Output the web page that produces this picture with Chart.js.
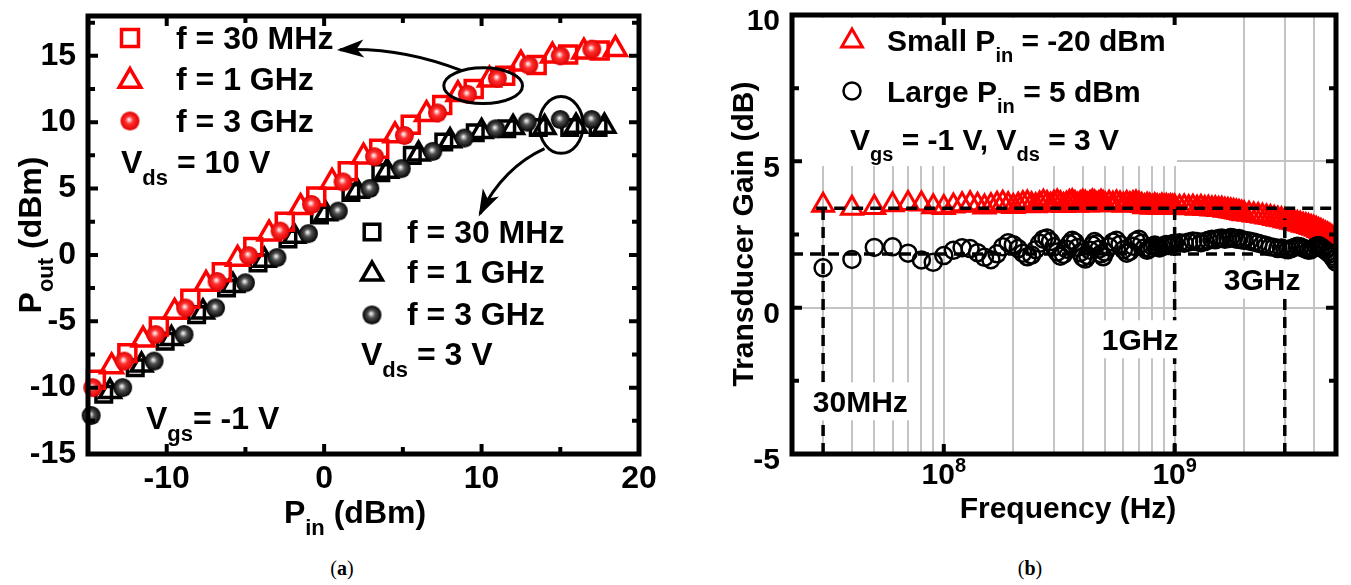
<!DOCTYPE html>
<html>
<head>
<meta charset="utf-8">
<script src="https://cdn.jsdelivr.net/npm/chart.js@4.4.1/dist/chart.umd.min.js"></script>
<style>
  html, body { margin: 0; padding: 0; background: #fff; }
  #wrap { position: relative; width: 1351px; height: 585px; overflow: hidden; }
  #cA { position: absolute; left: 0; top: 0; }
  #cB { position: absolute; left: 690px; top: 0; }
  .cap { position: absolute; top: 557px; width: 60px; text-align: center;
         font: 20px 'Liberation Serif', serif; color: #000; }
</style>
</head>
<body>
<div id="wrap">
  <canvas id="cA" width="680" height="545"></canvas>
  <canvas id="cB" width="661" height="545"></canvas>
  <div class="cap" style="left:312px">(<b>a</b>)</div>
  <div class="cap" style="left:1000px">(<b>b</b>)</div>
</div>
<script>
const FONT = "'Liberation Sans', Arial, Helvetica, sans-serif";
const RED = '#ff0000';
const BLACK = '#000000';
const GRID = '#c4c4c4';

Chart.defaults.font.family = FONT;
Chart.defaults.color = BLACK;

// ===================== (a) Pout vs Pin =====================
// Vds = 10 V (red)
const pinRed30  = [-14.5,-12.5,-10.5,-8.5,-6.5,-4.5,-2.5,-0.5,1.5,3.5,5.5,7.5,9.5,11.5,13.5,15.5,17.5];
const poutRed30 = [-9.4,-7.4,-5.4,-3.3,-1.3,0.6,2.5,4.4,6.3,8.0,9.8,11.3,12.5,13.5,14.3,15.1,15.4];
const pinRed1G  = [-13.5,-11.5,-9.5,-7.5,-5.5,-3.5,-1.5,0.5,2.5,4.5,6.5,8.5,10.5,12.5,14.5,16.5,18.5];
const poutRed1G = [-8.4,-6.4,-4.3,-2.2,-0.3,1.6,3.6,5.5,7.4,9.0,10.6,12.1,13.2,14.4,15.0,15.3,15.5];
const pinRed3G  = [-14.7,-12.7,-10.7,-8.8,-6.8,-4.8,-2.8,-0.8,1.2,3.2,5.1,7.2,9.1,11.0,13.0,15.0,17.0];
const poutRed3G = [-10.0,-8.0,-6.0,-4.0,-2.0,-0.05,1.8,3.8,5.5,7.4,9.0,10.7,12.1,13.3,14.3,15.0,15.5];
// Vds = 3 V (black)
const pinBlk30  = [-14.0,-12.0,-10.1,-8.1,-6.2,-4.2,-2.3,-0.3,1.7,3.6,5.6,7.6,9.6,11.6,13.6,15.6,17.4];
const poutBlk30 = [-10.5,-8.5,-6.5,-4.5,-2.5,-0.6,1.2,3.0,4.7,6.2,7.5,8.5,9.2,9.5,9.6,9.6,9.6];
const pinBlk1G  = [-13.6,-11.6,-9.7,-7.7,-5.8,-3.8,-1.9,0.1,2.1,4.0,6.0,8.0,10.0,12.0,14.0,16.0,17.8];
const poutBlk1G = [-10.3,-8.3,-6.3,-4.3,-2.3,-0.4,1.4,3.1,4.8,6.3,7.6,8.6,9.3,9.6,9.6,9.7,9.7];
const pinBlk3G  = [-14.8,-12.8,-10.8,-8.9,-6.9,-5.0,-3.0,-1.0,0.9,2.9,4.9,6.9,8.9,10.9,12.9,15.0,17.0];
const poutBlk3G = [-12.1,-10.0,-8.0,-6.0,-4.0,-2.1,-0.2,1.6,3.3,5.0,6.5,7.8,8.8,9.5,10.0,10.2,10.2];

const xTicksA = [-10, 0, 10, 20];
const xMinorA = [-5, 5, 15];
const yTicksA = [-15, -10, -5, 0, 5, 10, 15];
const yMinorA = [-12.5, -7.5, -2.5, 2.5, 7.5, 12.5, 17.5];

// ===================== (b) Transducer gain vs frequency =====================
const freqMHz = [
  30,40,50,60,70,80,90,100,110,120,130,140,150,160,170,180,190,200,
  210,220,230,240,250,260,270,280,290,300,310,320,330,340,350,360,370,380,390,400,
  410,420,430,440,450,460,470,480,490,500,
  520,540,560,580,600,620,640,660,680,700,720,740,760,780,800,820,840,860,880,900,
  920,940,960,980,1000,
  1050,1100,1150,1200,1250,1300,1350,1400,1450,1500,1550,1600,1650,1700,1750,1800,1850,1900,1950,2000,
  2100,2200,2300,2400,2500,2600,2700,2800,2900,3000,3100,3200,3300,3400,3500,3600,3700,3800,3900,4000,
  4100,4200,4300,4400,4500,4600,4700,4800,4900,5000];
const gainSmall = [
  3.50,3.40,3.42,3.52,3.56,3.54,3.45,3.42,3.47,3.52,3.55,3.50,3.44,3.48,3.53,3.57,3.52,3.46,
  3.50,3.55,3.58,3.52,3.48,3.54,3.60,3.56,3.50,3.57,3.61,3.55,3.49,3.53,3.59,3.62,3.56,3.50,3.55,3.60,
  3.57,3.51,3.56,3.61,3.58,3.52,3.55,3.60,3.56,3.52,
  3.57,3.53,3.58,3.54,3.50,3.56,3.52,3.55,3.58,3.53,3.49,3.45,3.50,3.47,3.43,3.48,3.45,3.42,3.47,3.44,
  3.46,3.42,3.45,3.43,3.44,
  3.42,3.44,3.41,3.43,3.40,3.42,3.39,3.40,3.37,3.38,3.35,3.36,3.33,3.32,3.30,3.29,3.27,3.25,3.23,3.21,
  3.19,3.17,3.15,3.12,3.10,3.08,3.05,3.02,3.00,2.97,2.95,2.92,2.90,2.88,2.85,2.82,2.80,2.77,2.74,2.71,
  2.68,2.64,2.60,2.56,2.52,2.48,2.44,2.39,2.34,2.28];
const gainLarge = [
  1.36,1.65,2.06,2.08,1.86,1.63,1.55,1.78,1.96,2.05,2.02,1.88,1.72,1.64,1.84,2.08,2.22,2.15,
  2.02,1.86,1.74,1.80,1.98,2.20,2.34,2.38,2.26,2.08,1.90,1.76,1.82,2.00,2.18,2.30,2.24,2.06,1.88,1.72,
  1.66,1.78,1.96,2.14,2.26,2.18,2.00,1.84,1.74,1.90,
  2.08,2.24,2.30,2.16,1.98,1.86,1.92,2.10,2.28,2.34,2.20,2.04,1.96,2.02,2.10,2.14,2.08,2.04,2.08,2.12,
  2.16,2.12,2.14,2.18,2.20,
  2.22,2.20,2.24,2.28,2.26,2.22,2.26,2.30,2.34,2.32,2.36,2.38,2.34,2.36,2.40,2.38,2.34,2.36,2.32,2.30,
  2.28,2.24,2.20,2.16,2.12,2.08,2.06,2.02,2.04,2.00,1.98,2.02,2.06,2.10,2.08,2.04,2.00,1.96,1.98,2.04,
  2.10,2.12,2.08,2.02,1.96,1.90,1.84,1.76,1.66,1.56];

const freqGrid = [30,40,50,60,70,80,90,100,200,300,400,500,600,700,800,900,1000,2000,3000,4000];
const freqMajor = [100, 1000];
const freqMajorLabel = [['10', '8'], ['10', '9']];
const yTicksB = [-5, 0, 5, 10];
const yMinorB = [-2.5, 2.5, 7.5];
const refLevels = [3.4, 1.83];          // horizontal dashed guides (dB)
const refFreqs = [30, 1000, 3000];      // vertical dashed guides (MHz)
const refTops = [3.4, 3.4, 3.05];

// ===================== HELPERS =====================
function makeSphere(r, hi, mid, dark) {
  const s = Math.ceil(r * 2) + 2;
  const c = document.createElement('canvas');
  c.width = s; c.height = s;
  const g = c.getContext('2d');
  const grad = g.createRadialGradient(s / 2 - r * 0.1, s / 2 - r * 0.15, r * 0.05, s / 2, s / 2, r);
  grad.addColorStop(0, hi);
  grad.addColorStop(0.38, mid);
  grad.addColorStop(1, dark);
  g.fillStyle = grad;
  g.beginPath();
  g.arc(s / 2, s / 2, r, 0, Math.PI * 2);
  g.fill();
  return c;
}
const redSphere = makeSphere(9.5, '#fff0f0', '#ff3030', '#e00000');
const blkSphere = makeSphere(9.5, '#f0f0f0', '#505050', '#000000');

const pts = (xs, ys) => xs.map((x, i) => ({ x, y: ys[i] }));

// parts: [text, kind] kind 0 normal, 1 subscript, 2 superscript; y = cap centre
function richText(ctx, x, y, parts, size, align) {
  ctx.save();
  ctx.fillStyle = BLACK;
  ctx.textBaseline = 'alphabetic';
  ctx.textAlign = 'left';
  const fontOf = k => `bold ${k ? Math.round(size * 0.68) : size}px ${FONT}`;
  let w = 0;
  parts.forEach(p => { ctx.font = fontOf(p[1]); w += ctx.measureText(p[0]).width; });
  let cx = align === 'center' ? x - w / 2 : align === 'right' ? x - w : x;
  const base = y + size * 0.358;
  parts.forEach(p => {
    ctx.font = fontOf(p[1]);
    const dy = p[1] === 1 ? size * 0.36 : p[1] === 2 ? -size * 0.4 : 0;
    ctx.fillText(p[0], cx, base + dy);
    cx += ctx.measureText(p[0]).width;
  });
  ctx.restore();
  return w;
}

function vertText(ctx, x, y, parts, size) {
  ctx.save();
  ctx.translate(x, y);
  ctx.rotate(-Math.PI / 2);
  richText(ctx, 0, 0, parts, size, 'center');
  ctx.restore();
}

function frameAndTicks(ctx, a, xs, ys, xMaj, xMin, yMaj, yMin) {
  ctx.save();
  ctx.strokeStyle = BLACK;
  ctx.lineWidth = 5;
  ctx.strokeRect(a.left, a.top, a.right - a.left, a.bottom - a.top);
  ctx.lineWidth = 4;
  ctx.beginPath();
  [[xMaj, 10], [xMin, 7]].forEach(([vals, len]) => vals.forEach(v => {
    const px = xs.getPixelForValue(v);
    ctx.moveTo(px, a.bottom); ctx.lineTo(px, a.bottom - len);
    ctx.moveTo(px, a.top); ctx.lineTo(px, a.top + len);
  }));
  [[yMaj, 10], [yMin, 7]].forEach(([vals, len]) => vals.forEach(v => {
    const py = ys.getPixelForValue(v);
    ctx.moveTo(a.left, py); ctx.lineTo(a.left + len, py);
    ctx.moveTo(a.right, py); ctx.lineTo(a.right - len, py);
  }));
  ctx.stroke();
  ctx.restore();
}

function marker(ctx, style, x, y, color, radius, bw) {
  ctx.save();
  if (style instanceof HTMLCanvasElement) {
    ctx.drawImage(style, x - style.width / 2, y - style.height / 2);
  } else {
    ctx.fillStyle = 'rgba(0,0,0,0)';
    ctx.strokeStyle = color;
    ctx.lineWidth = bw;
    Chart.helpers.drawPoint(ctx, { pointStyle: style, radius, borderWidth: bw, rotation: 0 }, x, y);
  }
  ctx.restore();
}

function arrow(ctx, p0, c, p1) {
  ctx.beginPath();
  ctx.moveTo(p0.x, p0.y);
  ctx.quadraticCurveTo(c.x, c.y, p1.x, p1.y);
  ctx.stroke();
  const ang = Math.atan2(p1.y - c.y, p1.x - c.x);
  const L = 24, W = 9;
  ctx.beginPath();
  ctx.moveTo(p1.x + 3 * Math.cos(ang), p1.y + 3 * Math.sin(ang));
  ctx.lineTo(p1.x - L * Math.cos(ang) + W * Math.sin(ang), p1.y - L * Math.sin(ang) - W * Math.cos(ang));
  ctx.lineTo(p1.x - L * 0.7 * Math.cos(ang), p1.y - L * 0.7 * Math.sin(ang));
  ctx.lineTo(p1.x - L * Math.cos(ang) - W * Math.sin(ang), p1.y - L * Math.sin(ang) + W * Math.cos(ang));
  ctx.closePath();
  ctx.fill();
}

// ===================== PLUGINS =====================
const panelA = {
  id: 'panelA',
  afterDraw(chart) {
    const { ctx, chartArea: a, scales: { x, y } } = chart;
    const P = (u, v) => ({ x: x.getPixelForValue(u), y: y.getPixelForValue(v) });

    // ellipses + arrows
    ctx.save();
    ctx.strokeStyle = BLACK;
    ctx.fillStyle = BLACK;
    ctx.lineWidth = 3;
    [[10.1, 12.75, 2.5, 1.35], [15.05, 9.79, 1.4, 2.14]].forEach(([cx, cy, rx, ry]) => {
      const c = P(cx, cy);
      const rpx = x.getPixelForValue(cx + rx) - c.x;
      const rpy = c.y - y.getPixelForValue(cy + ry);
      ctx.beginPath();
      ctx.ellipse(c.x, c.y, rpx, rpy, 0, 0, Math.PI * 2);
      ctx.stroke();
    });
    arrow(ctx, P(8.7, 13.9), P(4.8, 15.7), P(1.0, 15.45));
    arrow(ctx, P(14.0, 8.0), P(11.4, 6.6), P(9.9, 3.1));
    ctx.restore();

    frameAndTicks(ctx, a, x, y, xTicksA, xMinorA, yTicksA, yMinorA);

    // legends
    const S = 32;
    marker(ctx, 'rect', 130, 38, RED, 12, 3.5);
    marker(ctx, 'triangle', 130, 81, RED, 12.5, 3.5);
    marker(ctx, redSphere, 130, 121);
    richText(ctx, 176, 38, [['f = 30 MHz', 0]], S, 'left');
    richText(ctx, 176, 79, [['f = 1 GHz', 0]], S, 'left');
    richText(ctx, 176, 121, [['f = 3 GHz', 0]], S, 'left');
    richText(ctx, 121, 162, [['V', 0], ['ds', 1], [' = 10 V', 0]], S, 'left');

    marker(ctx, 'rect', 372, 232, BLACK, 11, 3.5);
    marker(ctx, 'triangle', 372, 274, BLACK, 12, 3.5);
    marker(ctx, blkSphere, 372, 315);
    richText(ctx, 407, 232, [['f = 30 MHz', 0]], S, 'left');
    richText(ctx, 407, 272, [['f = 1 GHz', 0]], S, 'left');
    richText(ctx, 407, 314, [['f = 3 GHz', 0]], S, 'left');
    richText(ctx, 361, 354, [['V', 0], ['ds', 1], [' = 3 V', 0]], S, 'left');
    richText(ctx, 146, 418, [['V', 0], ['gs', 1], ['= -1 V', 0]], S, 'left');

    // axis titles
    richText(ctx, 355, 512, [['P', 0], ['in', 1], [' (dBm)', 0]], S, 'center');
    vertText(ctx, 30, 235, [['P', 0], ['out', 1], [' (dBm)', 0]], S);
  }
};

const panelB = {
  id: 'panelB',
  beforeDatasetsDraw(chart) {
    // white box behind the legend hides the grid
    const { ctx, chartArea: a } = chart;
    ctx.save();
    ctx.fillStyle = '#fff';
    ctx.fillRect(a.left + 3, a.top + 3, 382, 148);
    ctx.restore();
  },
  afterDatasetsDraw(chart) {
    const { ctx, chartArea: a, scales: { x, y } } = chart;
    ctx.save();
    ctx.strokeStyle = BLACK;
    ctx.lineWidth = 3.5;
    ctx.setLineDash([11, 7]);
    ctx.beginPath();
    const l0 = y.getPixelForValue(refLevels[0]);
    ctx.moveTo(x.getPixelForValue(28), l0); ctx.lineTo(a.right, l0);
    const l1 = y.getPixelForValue(refLevels[1]);
    ctx.moveTo(a.left, l1); ctx.lineTo(a.right, l1);
    refFreqs.forEach((f, i) => {
      const px = x.getPixelForValue(f);
      ctx.moveTo(px, a.bottom); ctx.lineTo(px, y.getPixelForValue(refTops[i]));
    });
    ctx.stroke();
    ctx.restore();

    // frequency labels on white boxes
    const S = 30;
    [['30MHz', 43.5, -3.2], ['1GHz', 709, -1.08], ['3GHz', 2393, 0.96]].forEach(([t, f, g]) => {
      const px = x.getPixelForValue(f), py = y.getPixelForValue(g);
      ctx.save();
      ctx.font = `bold ${S}px ${FONT}`;
      const w = ctx.measureText(t).width;
      ctx.fillStyle = '#fff';
      ctx.fillRect(px - w / 2 - 3, py - 19, w + 6, 38);
      ctx.restore();
      richText(ctx, px, py, [[t, 0]], S, 'center');
    });
  },
  afterDraw(chart) {
    const { ctx, chartArea: a, scales: { x, y } } = chart;
    frameAndTicks(ctx, a, x, y, freqMajor, [], yTicksB, yMinorB);

    const S = 30;
    // x tick labels 10^8, 10^9
    freqMajor.forEach((f, i) => {
      richText(ctx, x.getPixelForValue(f), 473, [[freqMajorLabel[i][0], 0], [freqMajorLabel[i][1], 2]], S, 'center');
    });

    // legend
    marker(ctx, 'triangle', 162, 41, RED, 12, 3);
    marker(ctx, 'circle', 162, 91, BLACK, 8.5, 2.5);
    richText(ctx, 197, 40, [['Small P', 0], ['in', 1], [' = -20 dBm', 0]], S, 'left');
    richText(ctx, 197, 91, [['Large P', 0], ['in', 1], [' = 5 dBm', 0]], S, 'left');
    richText(ctx, 160, 139, [['V', 0], ['gs', 1], [' = -1 V, V', 0], ['ds', 1], [' = 3 V', 0]], S, 'left');

    // axis titles
    richText(ctx, 378, 507, [['Frequency (Hz)', 0]], S, 'center');
    vertText(ctx, 52, 234, [['Transducer Gain (dB)', 0]], S);
  }
};

// ===================== CHARTS =====================
const baseOpts = {
  responsive: false,
  animation: false,
  events: [],
  plugins: { legend: { display: false }, tooltip: { enabled: false } }
};

new Chart(document.getElementById('cA'), {
  type: 'scatter',
  data: {
    datasets: [
      { data: pts(pinRed3G, poutRed3G), pointStyle: redSphere },
      { data: pts(pinRed1G, poutRed1G), pointStyle: 'triangle', pointRadius: 12.5, borderColor: RED, backgroundColor: 'rgba(0,0,0,0)', borderWidth: 3.5 },
      { data: pts(pinRed30, poutRed30), pointStyle: 'rect', pointRadius: 12, borderColor: RED, backgroundColor: 'rgba(0,0,0,0)', borderWidth: 3.5 },
      { data: pts(pinBlk3G, poutBlk3G), pointStyle: blkSphere },
      { data: pts(pinBlk1G, poutBlk1G), pointStyle: 'triangle', pointRadius: 12, borderColor: BLACK, backgroundColor: 'rgba(0,0,0,0)', borderWidth: 3.5 },
      { data: pts(pinBlk30, poutBlk30), pointStyle: 'rect', pointRadius: 11, borderColor: BLACK, backgroundColor: 'rgba(0,0,0,0)', borderWidth: 3.5 }
    ].map(d => ({ ...d, showLine: false, clip: false }))
  },
  options: {
    ...baseOpts,
    layout: { padding: { left: 0, top: 14, right: 41, bottom: 0 } },
    scales: {
      x: {
        type: 'linear', min: -15, max: 20,
        afterBuildTicks: s => { s.ticks = xTicksA.map(v => ({ value: v })); },
        afterFit: s => { s.height = 91; s.paddingLeft = 0; s.paddingRight = 0; },
        grid: { display: false, drawTicks: false },
        border: { display: false },
        ticks: { font: { size: 32, weight: 'bold' }, padding: 6, maxRotation: 0, autoSkip: false }
      },
      y: {
        type: 'linear', min: -15, max: 18,
        afterBuildTicks: s => { s.ticks = yTicksA.map(v => ({ value: v })); },
        afterFit: s => { s.width = 88; s.paddingTop = 0; s.paddingBottom = 0; },
        grid: { display: false, drawTicks: false },
        border: { display: false },
        ticks: { font: { size: 32, weight: 'bold' }, padding: 12, autoSkip: false }
      }
    }
  },
  plugins: [panelA]
});

new Chart(document.getElementById('cB'), {
  type: 'scatter',
  data: {
    datasets: [
      { data: pts(freqMHz, gainLarge), pointStyle: 'circle', pointRadius: 8.5, borderColor: BLACK, backgroundColor: 'rgba(0,0,0,0)', borderWidth: 2.5 },
      { data: pts(freqMHz, gainSmall), pointStyle: 'triangle', pointRadius: 12, borderColor: RED, backgroundColor: 'rgba(0,0,0,0)', borderWidth: 3 }
    ].map(d => ({ ...d, showLine: false }))
  },
  options: {
    ...baseOpts,
    layout: { padding: { left: 0, top: 14, right: 7, bottom: 0 } },
    scales: {
      x: {
        type: 'logarithmic', min: 22, max: 5000,
        afterBuildTicks: s => { s.ticks = freqGrid.map(v => ({ value: v })); },
        afterFit: s => { s.height = 91; s.paddingLeft = 0; s.paddingRight = 0; },
        grid: { color: GRID, lineWidth: 2, drawTicks: false },
        border: { display: false },
        ticks: { display: false }
      },
      y: {
        type: 'linear', min: -5, max: 10,
        afterBuildTicks: s => { s.ticks = yTicksB.map(v => ({ value: v })); },
        afterFit: s => { s.width = 102; s.paddingTop = 0; s.paddingBottom = 0; },
        grid: { color: c => (c.tick && (c.tick.value === 0 || c.tick.value === 5)) ? GRID : 'rgba(0,0,0,0)', lineWidth: 2, drawTicks: false },
        border: { display: false },
        ticks: { font: { size: 30, weight: 'bold' }, padding: 12, labelOffset: 7, autoSkip: false }
      }
    }
  },
  plugins: [panelB]
});
</script>
</body>
</html>
